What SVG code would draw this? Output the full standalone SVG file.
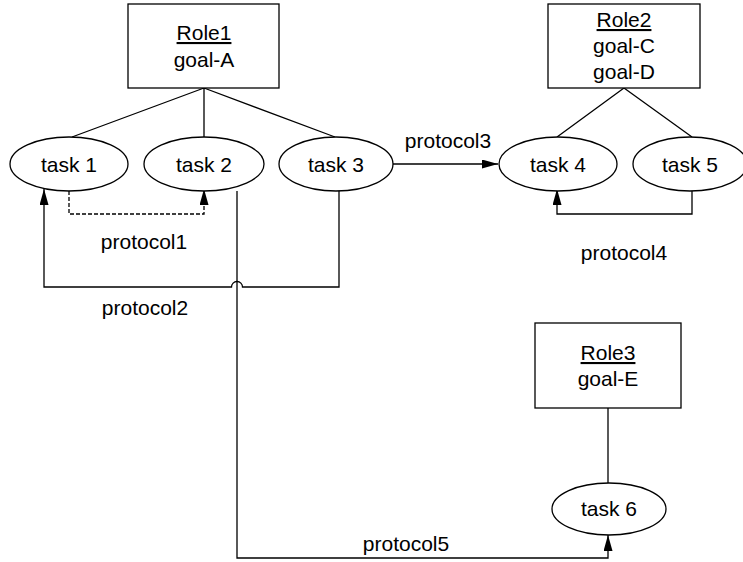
<svg xmlns="http://www.w3.org/2000/svg" width="743" height="562" viewBox="0 0 743 562">
  <style>
    .box { fill: #ffffff; stroke: #000000; stroke-width: 1.3; }
    .task { fill: #ffffff; stroke: #000000; stroke-width: 1.3; }
    .label { font-family: "Liberation Sans", Arial, sans-serif; font-size: 21px; fill: #000000; text-anchor: middle; }
    .role { text-decoration: underline; }
    .link { fill: none; stroke: #000000; stroke-width: 1.3; }
    .dashed { stroke-dasharray: 4 2; }
  </style>
  <defs>
    <marker id="arrow" viewBox="0 0 16 9" refX="16" refY="4.5" markerWidth="16" markerHeight="9" markerUnits="userSpaceOnUse" orient="auto">
      <path d="M0,0 L16,4.5 L0,9 Z" fill="#000000"/>
    </marker>
  </defs>
  <rect width="743" height="562" fill="#ffffff"/>

  <!-- connectors -->
  <g id="connectors">
    <!-- role to task links -->
    <path class="link" d="M204,88 L72,137 M204,88 L204,137 M204,88 L335,137"/>
    <path class="link" d="M624,88 L557,137 M624,88 L692,137"/>
    <path class="link" d="M608,408 L608,483"/>
    <!-- protocol1: task 1 to task 2 -->
    <path class="link dashed" d="M69,191 V214 H204 V189" marker-end="url(#arrow)"/>
    <!-- protocol2: task 3 to task 1, hopping over protocol5 -->
    <path class="link" d="M339,191 V287 H242.5 A5.5,5.5 0 0 0 231.5,287 H44 V189" marker-end="url(#arrow)"/>
    <!-- protocol3: task 3 to task 4 -->
    <path class="link" d="M393,164 H498" marker-end="url(#arrow)"/>
    <!-- protocol4: task 5 to task 4 -->
    <path class="link" d="M692,191 V214 H557 V189" marker-end="url(#arrow)"/>
    <!-- protocol5: task 2 to task 6 -->
    <path class="link" d="M237,191 V558 H608 V535" marker-end="url(#arrow)"/>
  </g>
  <text class="label" x="144" y="249">protocol1</text>
  <text class="label" x="145" y="315">protocol2</text>
  <text class="label" x="448" y="148">protocol3</text>
  <text class="label" x="624" y="260">protocol4</text>
  <text class="label" x="406" y="551">protocol5</text>

  <!-- roles -->
  <g id="role1">
    <rect class="box" x="128" y="4" width="151" height="84"/>
    <text class="label role" x="204" y="40">Role1</text>
    <text class="label" x="204" y="67">goal-A</text>
  </g>
  <g id="role2">
    <rect class="box" x="548" y="4" width="152" height="84"/>
    <text class="label role" x="624" y="27">Role2</text>
    <text class="label" x="624" y="53">goal-C</text>
    <text class="label" x="624" y="79">goal-D</text>
  </g>
  <g id="role3">
    <rect class="box" x="535" y="323" width="146" height="85"/>
    <text class="label role" x="608" y="360">Role3</text>
    <text class="label" x="608" y="386">goal-E</text>
  </g>

  <!-- tasks -->
  <g id="task1">
    <ellipse class="task" cx="69" cy="164" rx="59" ry="27"/>
    <text class="label" x="69" y="171.5">task 1</text>
  </g>
  <g id="task2">
    <ellipse class="task" cx="204" cy="164" rx="60" ry="27"/>
    <text class="label" x="204" y="171.5">task 2</text>
  </g>
  <g id="task3">
    <ellipse class="task" cx="336" cy="164" rx="57" ry="27"/>
    <text class="label" x="336" y="171.5">task 3</text>
  </g>
  <g id="task4">
    <ellipse class="task" cx="558" cy="164" rx="59" ry="27"/>
    <text class="label" x="558" y="171.5">task 4</text>
  </g>
  <g id="task5">
    <ellipse class="task" cx="690" cy="164" rx="57" ry="27"/>
    <text class="label" x="690" y="171.5">task 5</text>
  </g>
  <g id="task6">
    <ellipse class="task" cx="609" cy="509" rx="57" ry="26"/>
    <text class="label" x="609" y="516">task 6</text>
  </g>
</svg>
